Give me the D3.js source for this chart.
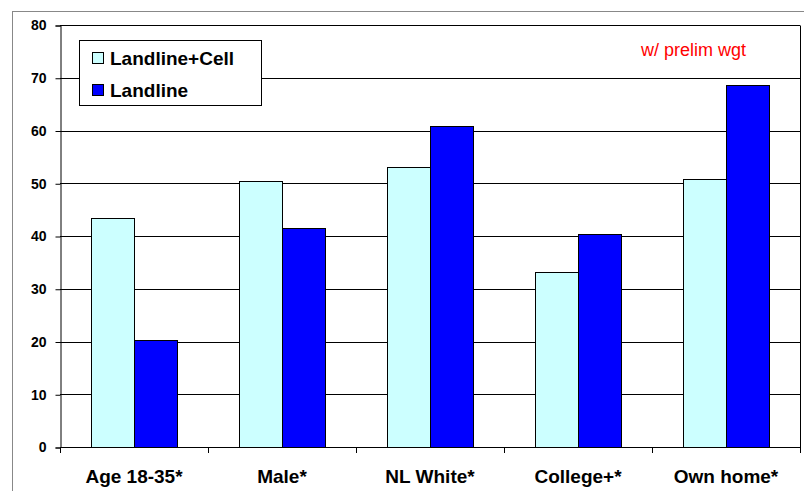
<!DOCTYPE html>
<html><head><meta charset="utf-8">
<script src="https://cdn.jsdelivr.net/npm/d3@7"></script>
<style>body{margin:0;background:#fff}svg{display:block}text{font-family:"Liberation Sans",Arial,sans-serif}</style>
</head><body>
<svg id="c" width="804" height="491"></svg>
<script>
const categories = ["Age 18-35*", "Male*", "NL White*", "College+*", "Own home*"];
const seriesNames = ["Landline+Cell", "Landline"];
const landlineCell = [43.4, 50.4, 53.1, 33.2, 50.8];
const landline = [20.2, 41.5, 60.8, 40.4, 68.6];
const yTicks = [0, 10, 20, 30, 40, 50, 60, 70, 80];
const colors = ["#CCFFFF", "#0000FF"];
const note = "w/ prelim wgt";

const svg = d3.select("#c");
const L = 60, R = 800, T = 25, B = 447;

svg.append("rect").attr("x", 12.5).attr("y", 11.5).attr("width", 820).attr("height", 500)
  .attr("fill", "#fff").attr("stroke", "#888").attr("stroke-width", 1);

const x0 = d3.scaleBand().domain(categories).range([L, R]).padding(0);
const x1 = d3.scaleBand().domain(seriesNames).range([31, x0.bandwidth() - 31]).padding(0);
const y = d3.scaleLinear().domain([0, 80]).range([B, T]);

// gridlines
svg.append("g").selectAll("line").data(yTicks.filter(d => d > 0)).join("line")
  .attr("x1", L).attr("x2", R).attr("y1", d => Math.round(y(d)) + 0.5).attr("y2", d => Math.round(y(d)) + 0.5)
  .attr("stroke", "#000").attr("stroke-width", 1);
// right border
svg.append("line").attr("x1", R + 0.5).attr("x2", R + 0.5).attr("y1", T + 0.5).attr("y2", B + 0.5)
  .attr("stroke", "#000");

// bars
const data = categories.map((c, i) => ({ c, vals: [landlineCell[i], landline[i]] }));
const g = svg.append("g").selectAll("g").data(data).join("g")
  .attr("transform", d => `translate(${x0(d.c)},0)`);
g.selectAll("rect").data(d => d.vals.map((v, j) => ({ s: seriesNames[j], v, j }))).join("rect")
  .attr("x", d => Math.round(x1(d.s)) + 0.5)
  .attr("y", d => Math.round(y(d.v)) + 0.5)
  .attr("width", x1.bandwidth())
  .attr("height", d => Math.round(B) - Math.round(y(d.v)))
  .attr("fill", d => colors[d.j]).attr("stroke", "#000").attr("stroke-width", 1);

// y axis
const yAxis = d3.axisLeft(y).tickValues(yTicks).tickSize(5).tickPadding(9);
const ya = svg.append("g").attr("transform", `translate(${L + 0.5},0.5)`).call(yAxis);
ya.select(".domain").attr("stroke", "#000");
ya.selectAll(".tick line").attr("stroke", "#000");
ya.selectAll("text").attr("font-size", 14).attr("font-weight", "bold").attr("fill", "#000");

// x axis
svg.append("line").attr("x1", L).attr("x2", R + 1).attr("y1", B + 0.5).attr("y2", B + 0.5).attr("stroke", "#000");
const bounds = categories.map(c => x0(c)).concat([R]);
svg.append("g").selectAll("line").data(bounds).join("line")
  .attr("x1", d => Math.round(d) + 0.5).attr("x2", d => Math.round(d) + 0.5)
  .attr("y1", B).attr("y2", B + 6).attr("stroke", "#000");
svg.append("g").selectAll("text").data(categories).join("text")
  .attr("x", d => x0(d) + x0.bandwidth() / 2).attr("y", 483)
  .attr("text-anchor", "middle").attr("font-size", 19).attr("font-weight", "bold").attr("fill", "#000")
  .text(d => d);

// legend
const lg = svg.append("g");
lg.append("rect").attr("x", 79.5).attr("y", 40.5).attr("width", 182).attr("height", 65)
  .attr("fill", "#fff").attr("stroke", "#000");
seriesNames.forEach((s, i) => {
  lg.append("rect").attr("x", 92.5).attr("y", 52.5 + i * 32).attr("width", 11).attr("height", 11)
    .attr("fill", colors[i]).attr("stroke", "#000");
  lg.append("text").attr("x", 110).attr("y", 65 + i * 32).attr("font-size", 19).attr("font-weight", "bold")
    .attr("fill", "#000").text(s);
});

svg.append("text").attr("x", 641).attr("y", 56).attr("font-size", 18).attr("fill", "#FF0000").text(note);
</script>
</body></html>
